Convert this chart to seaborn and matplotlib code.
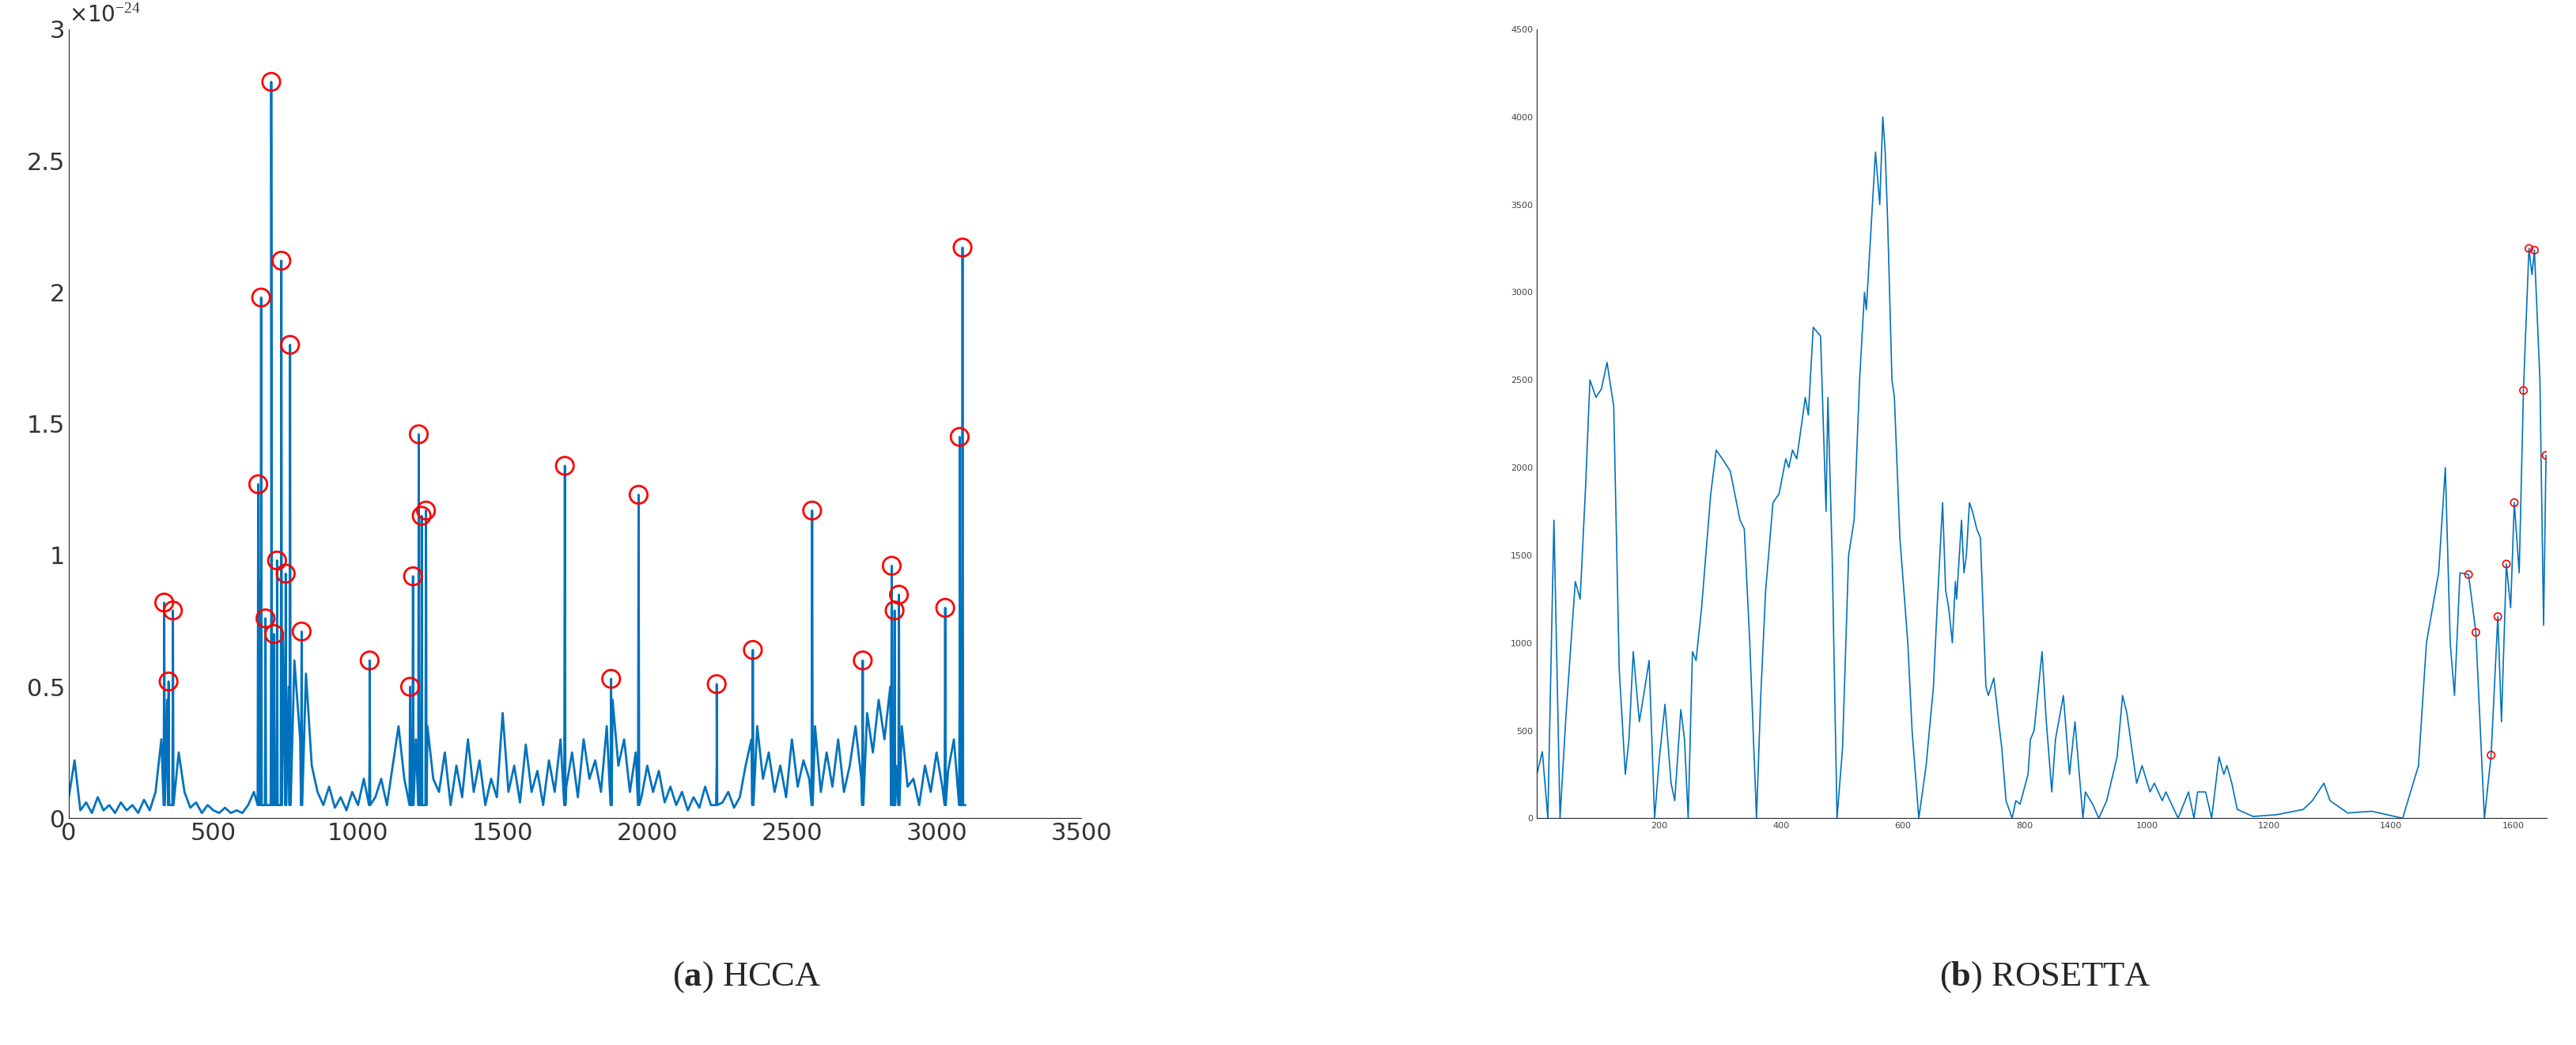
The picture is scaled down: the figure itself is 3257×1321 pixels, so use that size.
import numpy as np
import matplotlib
matplotlib.use("Agg")
import matplotlib.pyplot as plt
import seaborn as sns
import pandas as pd

sns.set_style("white")
plt.rcParams['font.family'] = ['DejaVu Sans']
plt.rcParams['mathtext.fontset'] = 'custom'
plt.rcParams['mathtext.rm'] = 'Liberation Serif'
plt.rcParams['mathtext.bf'] = 'Liberation Serif:bold'

# ---- Panel (a) HCCA : values in units of 1e-24 ----
hcca_step = 20
hcca_base = [0.08,0.22,0.03,0.06,0.02,0.08,0.03,0.05,0.02,0.06,0.03,0.05,0.02,0.07,0.03,0.10,
             0.30,0.45,0.60,0.25,
             0.10,0.04,0.06,0.02,0.05,0.03,0.02,0.04,0.02,0.03,0.02,0.05,0.10,
             0.90,0.60,0.85,0.40,0.70,0.50,0.60,0.30,0.55,0.20,
             0.10,0.05,0.12,0.04,0.08,0.03,0.10,0.05,0.15,
             0.25,0.08,0.15,0.05,
             0.20,0.35,0.15,0.45,0.30,0.60,0.35,0.15,
             0.10,0.25,0.05,0.20,0.08,0.30,0.10,0.22,0.05,0.15,0.08,0.40,0.10,0.20,0.06,0.28,0.10,0.18,0.05,0.22,0.10,
             0.30,0.12,0.25,0.08,0.30,0.15,0.22,0.10,0.35,0.45,0.20,0.30,0.10,0.25,0.08,0.20,0.10,0.18,0.06,0.12,
             0.05,0.10,0.03,0.08,0.04,0.12,0.05,0.20,0.06,0.10,0.04,0.08,0.20,
             0.30,0.35,0.15,0.25,0.10,0.20,0.08,0.30,0.12,0.22,0.15,0.35,0.10,
             0.25,0.12,0.30,0.10,0.20,0.35,0.15,0.40,0.25,0.45,0.30,0.50,0.20,0.35,0.12,
             0.15,0.05,0.20,0.10,0.25,0.12,0.18,0.30,0.50,0.05]
hcca_peak_x = [330,345,360,655,665,680,700,710,720,735,750,765,805,1040,1180,1190,1210,1220,1235,
               1715,1875,1970,2240,2365,2570,2745,2845,2855,2870,3030,3080,3090]
hcca_peak_y = [0.82,0.52,0.79,1.27,1.98,0.76,2.80,0.70,0.98,2.12,0.93,1.80,0.71,0.60,0.50,0.92,1.46,1.15,1.17,
               1.34,0.53,1.23,0.51,0.64,1.17,0.60,0.96,0.79,0.85,0.80,1.45,2.17]

# ---- Panel (b) ROSETTA : (x, value) pairs ----
ros_points = [(0,250),(9,380),(18,0),(28,1700),(38,0),(48,600),(63,1350),(71,1250),(80,1900),(87,2500),
    (97,2400),(106,2450),(115,2600),(126,2350),(135,850),(145,250),(151,450),(158,950),(168,550),(175,700),
    (184,900),(193,0),(201,350),(210,650),(220,200),(226,100),(236,620),(242,450),(248,0),(255,950),(261,900),
    (270,1200),(285,1850),(294,2100),(304,2050),(317,1980),(333,1700),(340,1650),(349,1000),(360,0),(367,700),
    (375,1300),(387,1800),(397,1850),(408,2050),(413,2000),(419,2100),(426,2050),(440,2400),(445,2300),
    (453,2800),(465,2750),(474,1750),(477,2400),(484,1500),(492,0),(501,400),(511,1500),(520,1700),(529,2500),
    (537,3000),(540,2900),(555,3800),(562,3500),(567,4000),(571,3800),(575,3400),(582,2500),(586,2400),
    (595,1600),(608,1000),(615,500),(626,0),(638,300),(650,750),(656,1200),(665,1800),(670,1300),(675,1200),
    (681,1000),(686,1350),(688,1250),(696,1700),(700,1400),(704,1500),(709,1800),(714,1750),(721,1650),
    (727,1600),(736,750),(740,700),(749,800),(757,550),(762,400),(769,100),(779,0),(785,100),(792,80),
    (805,250),(809,450),(815,500),(828,950),(835,550),(844,150),(850,450),(863,700),(873,250),(882,550),
    (895,0),(899,150),(911,80),(921,0),(934,100),(951,350),(960,700),(967,600),(973,450),(983,200),(992,300),
    (1005,150),(1012,200),(1025,100),(1031,150),(1051,0),(1068,150),(1077,0),(1083,150),(1096,150),(1106,0),
    (1118,350),(1126,250),(1131,300),(1139,200),(1148,50),(1174,10),(1212,20),(1256,50),(1271,100),
    (1290,200),(1300,100),(1329,30),(1368,40),(1419,0),(1445,300),(1458,1000),(1478,1400),(1489,2000),
    (1497,1000),(1504,700),(1513,1400),(1527,1390),(1539,1060),(1553,0),(1564,360),(1575,1150),(1581,550),
    (1589,1450),(1596,1200),(1602,1800),(1610,1400),(1617,2440),(1626,3250),(1631,3100),(1635,3240),
    (1644,2500),(1650,1100),(1654,2070)]
ros_peak_x = [1527,1539,1564,1575,1589,1602,1617,1626,1635,1654]
ros_peak_y = [1390,1060,360,1150,1450,1800,2440,3250,3240,2070]

BLUE = "#0072BD"

fig = plt.figure(figsize=(32.57, 13.21), dpi=100)
ax1 = fig.add_axes([0.0267, 0.217, 0.393, 0.755])
ax2 = fig.add_axes([0.5966, 0.217, 0.392, 0.755])

# Panel a
bx = list(np.arange(len(hcca_base)) * hcca_step)
pts = list(zip(bx, hcca_base))
for px, py in zip(hcca_peak_x, hcca_peak_y):
    pts += [(px - 2, 0.05), (px, py), (px + 2, 0.05)]
pts.sort()
dfa = pd.DataFrame(pts, columns=["x", "y"])
sns.lineplot(data=dfa, x="x", y="y", ax=ax1, color=BLUE, lw=2, estimator=None, sort=False)
sns.scatterplot(x=hcca_peak_x, y=hcca_peak_y, ax=ax1, s=260, facecolors="none",
                edgecolor="red", linewidth=2, zorder=5)
ax1.set_xlim(0, 3500)
ax1.set_ylim(0, 3)
ax1.set_xticks(range(0, 3501, 500))
ax1.set_yticks([0, 0.5, 1, 1.5, 2, 2.5, 3])
ax1.set_yticklabels(["0", "0.5", "1", "1.5", "2", "2.5", "3"])
ax1.tick_params(labelsize=22, direction="in", length=6, colors="#333333")
ax1.set_xlabel(""); ax1.set_ylabel("")
for s in ["top", "right"]:
    ax1.spines[s].set_visible(False)
ax1.text(0.0, 1.003, "×10$^{-24}$", transform=ax1.transAxes, fontsize=20, va="bottom",
         color="#333333")

# Panel b
dfb = pd.DataFrame(ros_points, columns=["x", "y"])
sns.lineplot(data=dfb, x="x", y="y", ax=ax2, color=BLUE, lw=1.2, estimator=None, sort=False)
sns.scatterplot(x=ros_peak_x, y=ros_peak_y, ax=ax2, s=45, facecolors="none",
                edgecolor="red", linewidth=1.2, zorder=5)
ax2.set_xlim(0, 1655)
ax2.set_ylim(0, 4500)
ax2.set_xticks(range(200, 1601, 200))
ax2.set_yticks(range(0, 4501, 500))
ax2.tick_params(labelsize=8, direction="in", length=4, colors="#444444")
ax2.set_xlabel(""); ax2.set_ylabel("")
for s in ["top", "right"]:
    ax2.spines[s].set_visible(False)

fig.text(0.290, 0.057, r"($\mathbf{a}$) HCCA", fontsize=32, family="Liberation Serif", ha="center")
fig.text(0.794, 0.057, r"($\mathbf{b}$) ROSETTA", fontsize=32, family="Liberation Serif", ha="center")

fig.savefig("out.png", dpi=100)
